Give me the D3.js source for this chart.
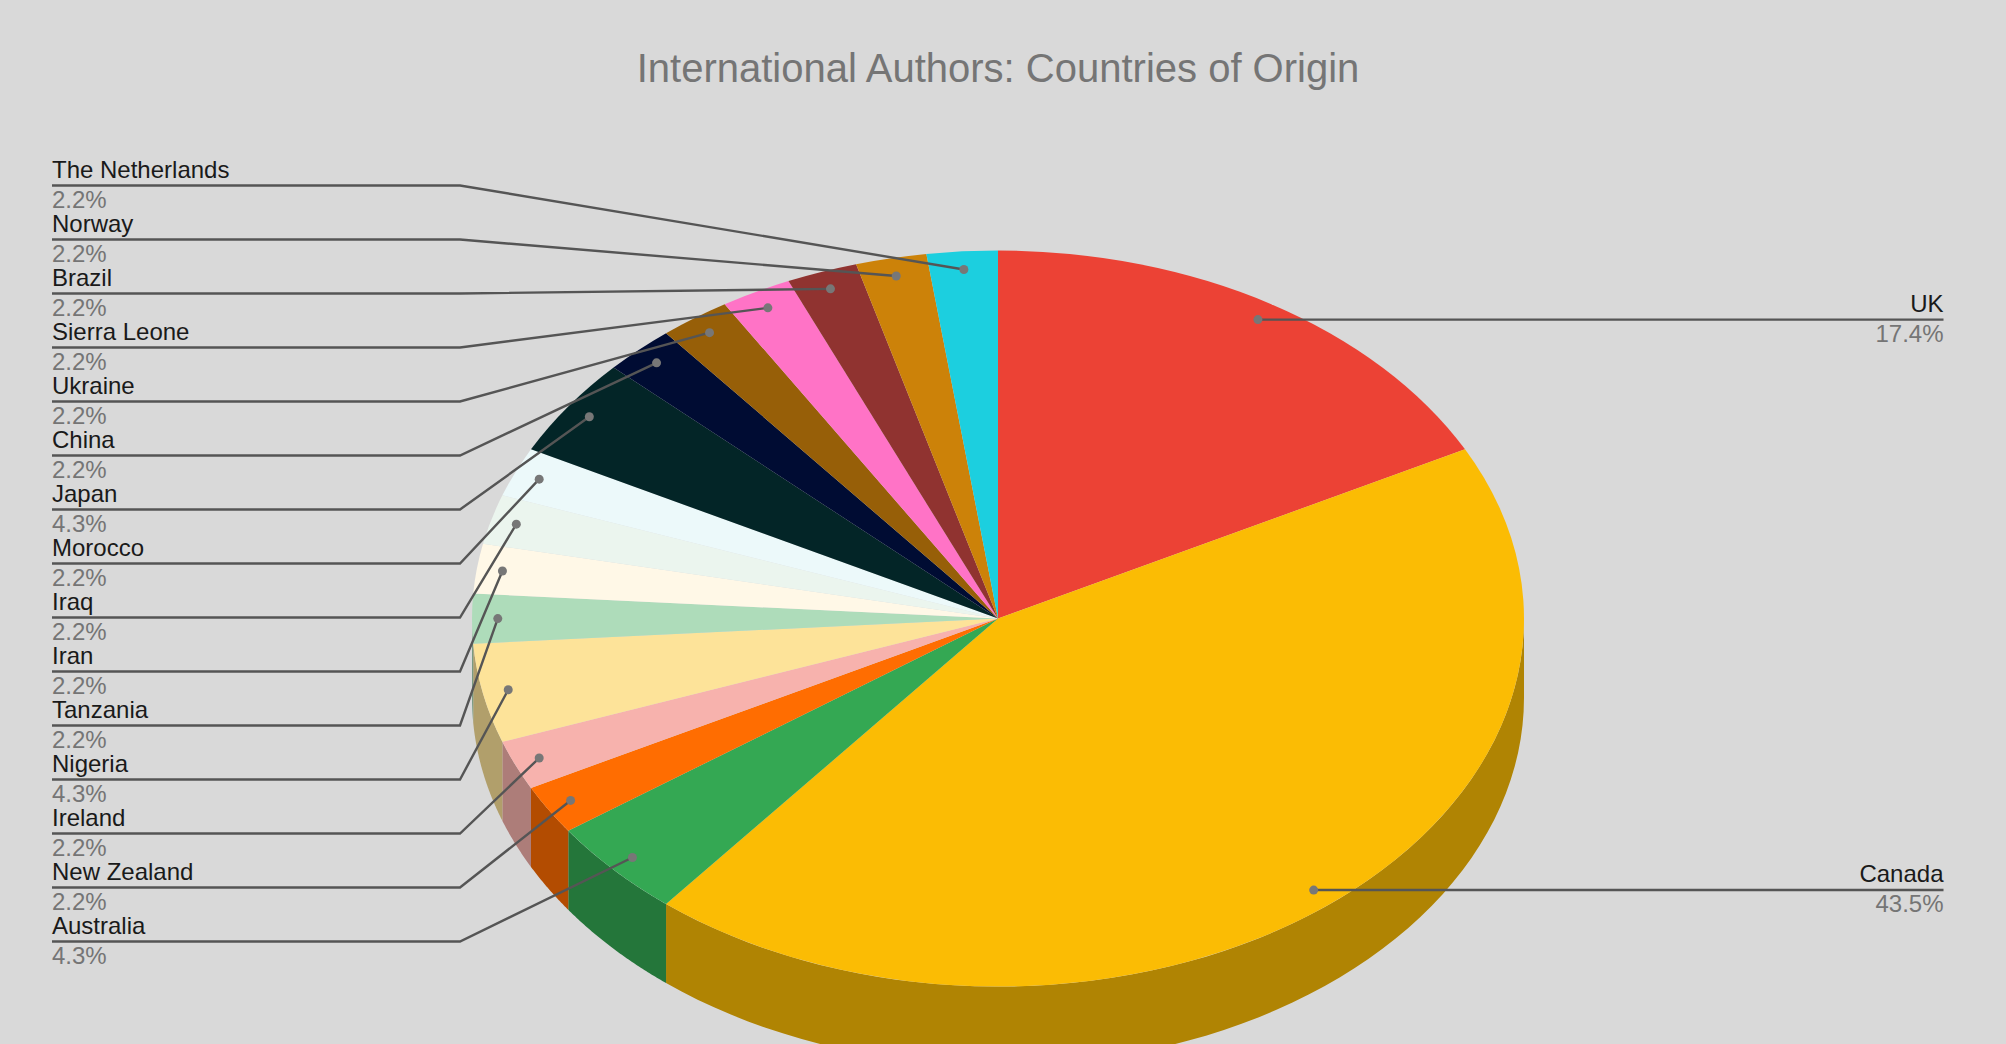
<!DOCTYPE html>
<html>
<head>
<meta charset="utf-8">
<script src="https://d3js.org/d3.v7.min.js"></script>
<style>
html,body{margin:0;padding:0;background:#d9d9d9;overflow:hidden}
svg{display:block}
text{font-family:"Liberation Sans",Arial,sans-serif}
</style>
</head>
<body>
<svg id="c" width="2006" height="1044"></svg>
<script>
const titleText = "International Authors: Countries of Origin";
const countries = ["UK","Canada","Australia","New Zealand","Ireland","Nigeria","Tanzania","Iran","Iraq","Morocco","Japan","China","Ukraine","Sierra Leone","Brazil","Norway","The Netherlands"];
const authorCounts = [8,20,2,1,1,2,1,1,1,1,2,1,1,1,1,1,1];
const percentLabels = ["17.4%","43.5%","4.3%","2.2%","2.2%","4.3%","2.2%","2.2%","2.2%","2.2%","4.3%","2.2%","2.2%","2.2%","2.2%","2.2%","2.2%"];
const sliceColors = ["#EC4235","#FBBC04","#34A853","#FF6D01","#F7B2AD","#FDE399","#AEDCBA","#FFF8E7","#EBF5EE","#ECF9FA","#032527","#000C33","#975F08","#FF73C6","#903330","#CC8209","#1CCFDF"];

const W = 2006, H = 1044;
const cx = 998, cy = 618.6, rx = 526, ry = 368, depth = 79;
const anchorFrac = 0.951;
const leftX = 52, elbowX = 460, rightX = 1943.5;
const labelSize = 24;

const svg = d3.select("#c");
svg.append("rect").attr("width",W).attr("height",H).attr("fill","#d9d9d9");

svg.append("text").attr("x",cx).attr("y",82).attr("text-anchor","middle")
  .attr("font-size",40).attr("fill","#757575").text(titleText);

const arcs = d3.pie().sort(null).value(d=>d)(authorCounts);
const ell = (a,f=1)=>[cx+f*rx*Math.sin(a), cy-f*ry*Math.cos(a)];
const dim = c=>{const k=d3.rgb(c);return d3.rgb(k.r*0.7,k.g*0.7,k.b*0.7).formatHex();};

// side walls
const sideG = svg.append("g");
const line = d3.line();
arcs.forEach((d,i)=>{
  const a0 = Math.max(d.startAngle,Math.PI/2), a1 = Math.min(d.endAngle,Math.PI*1.5);
  if(a1<=a0) return;
  const top = d3.range(0,61).map(k=>ell(a0+(a1-a0)*k/60));
  const bottom = top.map(p=>[p[0],p[1]+depth]).reverse();
  sideG.append("path").attr("d",line(top.concat(bottom))+"Z").attr("fill",dim(sliceColors[i]));
});

// top face
const arc = d3.arc().innerRadius(0).outerRadius(rx);
svg.append("g").attr("transform",`translate(${cx},${cy}) scale(1,${ry/rx})`)
  .selectAll("path").data(arcs).join("path")
  .attr("d",arc).attr("fill",(d,i)=>sliceColors[i]);

// labels
const leftIdx = d3.range(countries.length-1,1,-1);
const slotY = d3.scalePoint().domain(leftIdx).range([185.5,941.5]);
const lg = svg.append("g");
const mid = d=>(d.startAngle+d.endAngle)/2;

arcs.forEach((d,i)=>{
  const p = ell(mid(d),anchorFrac);
  const isRight = i<2;
  const y = isRight ? p[1] : slotY(i);
  const pts = isRight ? [p,[rightX,y]] : [p,[elbowX,y],[leftX,y]];
  lg.append("path").attr("d",line(pts)).attr("fill","none").attr("stroke","#555555").attr("stroke-width",2.4);
  lg.append("circle").attr("cx",p[0]).attr("cy",p[1]).attr("r",4.5).attr("fill","#777777");
  const tx = isRight ? rightX : leftX, anchor = isRight ? "end" : "start";
  lg.append("text").attr("x",tx).attr("y",y-8).attr("text-anchor",anchor)
    .attr("font-size",labelSize).attr("fill","#1a1a1a").text(countries[i]);
  lg.append("text").attr("x",tx).attr("y",y+22).attr("text-anchor",anchor)
    .attr("font-size",labelSize).attr("fill","#757575").text(percentLabels[i]);
});
</script>
</body>
</html>
